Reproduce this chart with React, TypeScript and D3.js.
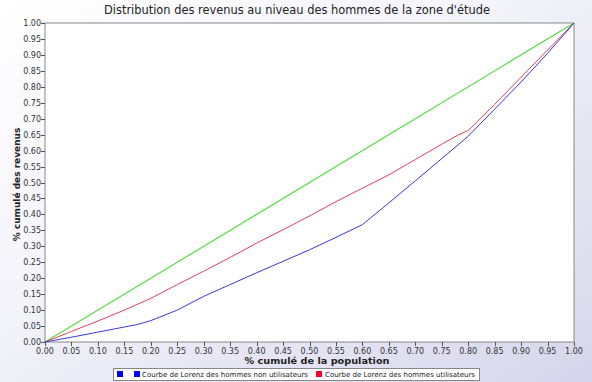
import React from "react";
import * as d3 from "d3";

const title = "Distribution des revenus au niveau des hommes de la zone d'étude";
const xLabel = "% cumulé de la population";
const yLabel = "% cumulé des revenus";

const popShare = [0, 0.05, 0.1, 0.15, 0.175, 0.2, 0.25, 0.3, 0.35, 0.4, 0.45, 0.5, 0.55, 0.6, 0.65, 0.7, 0.75, 0.8, 0.85, 0.9, 0.95, 1];
const nonUsers = [0, 0.015, 0.031, 0.047, 0.055, 0.067, 0.1, 0.143, 0.18, 0.217, 0.253, 0.289, 0.328, 0.368, 0.436, 0.505, 0.575, 0.645, 0.73, 0.815, 0.905, 1];

const popShareUsers = [0, 0.05, 0.1, 0.15, 0.2, 0.25, 0.3, 0.35, 0.4, 0.45, 0.5, 0.55, 0.6, 0.65, 0.7, 0.75, 0.78, 0.8, 0.85, 0.9, 0.95, 1];
const users = [0, 0.033, 0.066, 0.1, 0.137, 0.18, 0.222, 0.265, 0.31, 0.352, 0.395, 0.44, 0.482, 0.524, 0.572, 0.62, 0.648, 0.663, 0.745, 0.83, 0.915, 1];

const equalityX = [0, 1];
const equalityY = [0, 1];

const legendItems = [
  { label: "", color: "#0000ff" },
  { label: "Courbe de Lorenz des hommes non utilisateurs", color: "#0000ff" },
  { label: "Courbe de Lorenz des hommes utilisateurs", color: "#ff0033" },
];

const ticks = d3.range(0, 1.0001, 0.05);

export default function App() {
  const W = 592, H = 382;
  const x = d3.scaleLinear().domain([0, 1]).range([45, 574]);
  const y = d3.scaleLinear().domain([0, 1]).range([342, 23]);
  const line = d3.line<[number, number]>().x(d => x(d[0])).y(d => y(d[1]));
  const font = "DejaVu Sans, Verdana, sans-serif";

  const blue = popShare.map((p, i) => [p, nonUsers[i]] as [number, number]);
  const red = popShareUsers.map((p, i) => [p, users[i]] as [number, number]);
  const green = equalityX.map((p, i) => [p, equalityY[i]] as [number, number]);

  return (
    <svg width={W} height={H} style={{ position: "absolute", left: 0, top: 0, display: "block" }}>
      <defs>
        <linearGradient id="bg" x1="0" y1="0" x2="1" y2="1">
          <stop offset="0" stopColor="#ffffff" />
          <stop offset="0.4" stopColor="#f4f4fa" />
          <stop offset="1" stopColor="#d6d6ec" />
        </linearGradient>
      </defs>
      <rect x={0} y={0} width={W} height={H} fill="url(#bg)" />
      <text x={297} y={14} textAnchor="middle" fontFamily={font} fontSize={11.5} fill="#222" textLength={386} lengthAdjust="spacingAndGlyphs">{title}</text>
      <rect x={x(0)} y={y(1)} width={x(1) - x(0)} height={y(0) - y(1)} fill="#ffffff" stroke="#888" strokeWidth={1} />
      {ticks.map((t, i) => (
        <g key={"y" + i}>
          <line x1={x(0) - 4} x2={x(0)} y1={Math.round(y(t)) + 0.5} y2={Math.round(y(t)) + 0.5} stroke="#555" />
          <text x={x(0) - 4} y={y(t) + 3} textAnchor="end" fontFamily={font} fontSize={8} fill="#333">{t.toFixed(2)}</text>
        </g>
      ))}
      {ticks.map((t, i) => (
        <g key={"x" + i}>
          <line y1={y(0)} y2={y(0) + 4} x1={Math.round(x(t)) + 0.5} x2={Math.round(x(t)) + 0.5} stroke="#555" />
          <text x={x(t)} y={y(0) + 12} textAnchor="middle" fontFamily={font} fontSize={8} fill="#333">{t.toFixed(2)}</text>
        </g>
      ))}
      <path d={line(green) || ""} fill="none" stroke="#55dd44" strokeWidth={1.2} />
      <path d={line(red) || ""} fill="none" stroke="#e0405f" strokeWidth={1} />
      <path d={line(blue) || ""} fill="none" stroke="#3838dd" strokeWidth={1} />
      <text x={317} y={364} textAnchor="middle" fontFamily={font} fontSize={9.5} fontWeight="bold" fill="#222" textLength={145} lengthAdjust="spacingAndGlyphs">{xLabel}</text>
      <text transform={`translate(20,${y(0.5) + 2}) rotate(-90)`} textAnchor="middle" fontFamily={font} fontSize={9} fontWeight="bold" fill="#222">{yLabel}</text>
      <rect x={113.5} y={368.5} width={366} height={12} fill="#ffffff" stroke="#888" />
      <rect x={117} y={371} width={6} height={6} fill={legendItems[0].color} />
      <rect x={134} y={371} width={6} height={6} fill={legendItems[1].color} />
      <text x={142} y={377} fontFamily={font} fontSize={7} fill="#222" textLength={166} lengthAdjust="spacingAndGlyphs">{legendItems[1].label}</text>
      <rect x={316} y={371} width={6} height={6} fill={legendItems[2].color} />
      <text x={325} y={377} fontFamily={font} fontSize={7} fill="#222" textLength={150} lengthAdjust="spacingAndGlyphs">{legendItems[2].label}</text>
    </svg>
  );
}
